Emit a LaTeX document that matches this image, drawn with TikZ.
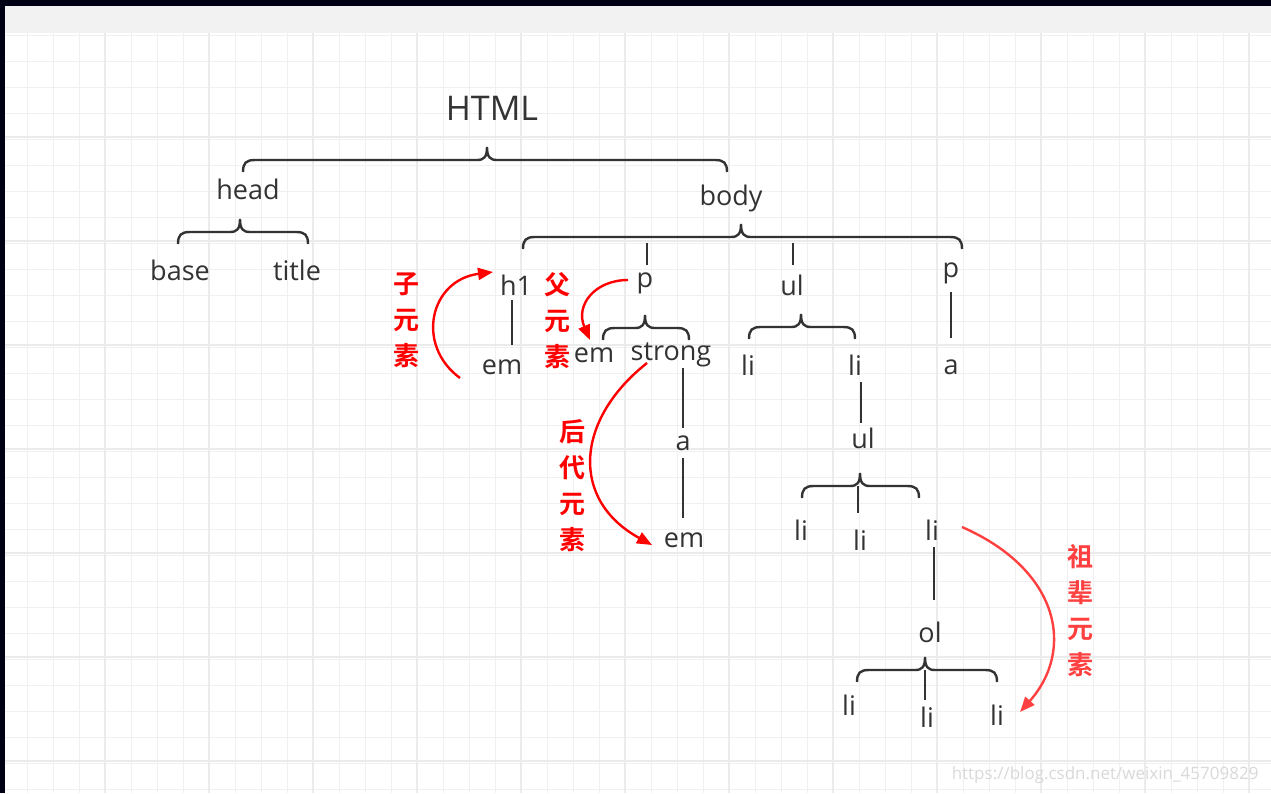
\documentclass[tikz,border=0pt]{standalone}
\usepackage{fontspec}
\setmainfont{Open Sans}
\newfontfamily\cjk{Noto Sans CJK SC}[BoldFont={* Bold}]
\usetikzlibrary{arrows.meta}
\begin{document}
\begin{tikzpicture}[x=1pt,y=-1pt,
  t/.style={font=\fontsize{27}{27}\selectfont,text=black!80,inner sep=1pt},
  lab/.style={font=\cjk\bfseries\fontsize{26}{36}\selectfont,text=red,align=center,inner sep=0pt},
  ln/.style={line width=2.4pt,draw=black!80},
  ra/.style={line width=2.4pt,draw=red,-{Triangle[length=15pt,width=12pt]}}]
\useasboundingbox (0,0) rectangle (1271,793);
\fill[white] (0,0) rectangle (1271,793);
\fill[black!5] (5,6) rectangle (1271,33);
\foreach \i in {0,...,47} {\pgfmathsetmacro\xx{27+26*\i}
  \draw[line width=1pt,draw=black!6] (\xx,33) -- (\xx,793);}
\foreach \i in {0,...,29} {\pgfmathsetmacro\yy{35+26*\i}
  \draw[line width=1pt,draw=black!6] (5,\yy) -- (1271,\yy);}
\foreach \i in {3,7,11,15,19,23,27,31,35,39,43,47} {\pgfmathsetmacro\xx{27+26*\i}
  \draw[line width=1.2pt,draw=black!8] (\xx,33) -- (\xx,793);}
\foreach \i in {4,8,12,16,20,24,28} {\pgfmathsetmacro\yy{33+26*\i}
  \draw[line width=1.2pt,draw=black!8] (5,\yy) -- (1271,\yy);}
\fill[black!80!blue!40!black] (0,0) rectangle (1271,6);
\fill[black!80!blue!40!black] (0,0) rectangle (5,793);
\newcommand\mybrace[4]{\draw[ln] (#1,#4+12) .. controls (#1,#4+3) and (#1+3,#4) .. (#1+12,#4) -- (#2-10,#4)
  .. controls (#2-3,#4) and (#2,#4-3) .. (#2,#4-13) .. controls (#2,#4-3) and (#2+3,#4) .. (#2+10,#4) -- (#3-12,#4)
  .. controls (#3-3,#4) and (#3,#4+3) .. (#3,#4+12);}
\node[t,font=\fontsize{34}{34}\selectfont] (html) at (492,108) {HTML};
\mybrace{243}{487}{727}{160}
\node[t] (head) at (248,189) {head};
\node[t] (body) at (731,198) {body};
\mybrace{178}{240}{308}{232}
\node[t] (base) at (180,270) {base};
\node[t] (title) at (297,270) {title};
\mybrace{523}{741}{962}{237}
\node[t] (h1) at (516,285) {h1};
\node[t] (p1) at (645,283) {p};
\node[t] (ul1) at (792,285) {ul};
\node[t] (p2) at (951,273) {p};
\draw[ln] (647,243) -- (647,265);
\draw[ln] (793,243) -- (793,265);
\node[t] (em1) at (502,367) {em};
\draw[ln] (512,300) -- (512,345);
\mybrace{603}{645}{689}{328}
\node[t] (em2) at (594,355) {em};
\node[t] (strong) at (671,355) {strong};
\draw[ln] (683,368) -- (683,428);
\node[t] (a1) at (683,443) {a};
\draw[ln] (683,458) -- (683,518);
\node[t] (em3) at (684,540) {em};
\mybrace{749}{801}{855}{327}
\node[t] (li1) at (748,365) {li};
\node[t] (li2) at (855,365) {li};
\draw[ln] (861,382) -- (861,423);
\node[t] (ul2) at (863,438) {ul};
\mybrace{802}{860}{919}{486}
\draw[ln] (858,486) -- (858,513);
\node[t] (li3) at (801,530) {li};
\node[t] (li4) at (860,540) {li};
\node[t] (li5) at (932,530) {li};
\draw[ln] (934,547) -- (934,600);
\node[t] (ol) at (930,632) {ol};
\mybrace{857}{925}{997}{670}
\draw[ln] (925,670) -- (925,700);
\node[t] (li6) at (849,705) {li};
\node[t] (li7) at (927,717) {li};
\node[t] (li8) at (997,715) {li};
\draw[ln] (951,292) -- (951,338);
\node[t] (a2) at (951,367) {a};
\node[lab] (l1) at (406,320) {子\\元\\素};
\node[lab] (l2) at (557,321) {父\\元\\素};
\node[lab] (l3) at (572,486) {后\\代\\元\\素};
\node[lab,text=red!75!white] (l4) at (1080,611) {祖\\辈\\元\\素};
\coordinate (c1) at (460,378); \coordinate (c2) at (493,272);
\draw[ra] (c1) .. controls (415,345) and (430,280) .. (c2);
\coordinate (c3) at (628,280); \coordinate (c4) at (590,340);
\draw[ra] (c3) .. controls (595,280) and (575,305) .. (c4);
\coordinate (c5) at (647,363); \coordinate (c6) at (652,545);
\draw[ra] (c5) .. controls (575,420) and (570,500) .. (c6);
\coordinate (c7) at (962,527); \coordinate (c8) at (1020,712);
\draw[ra,draw=red!75!white] (c7) .. controls (1060,570) and (1075,650) .. (c8);
\node[font=\fontsize{17}{17}\selectfont,text=black!15,anchor=east] (wm) at (1262,775) {https://blog.csdn.net/weixin\_45709829};
\end{tikzpicture}
\end{document}
